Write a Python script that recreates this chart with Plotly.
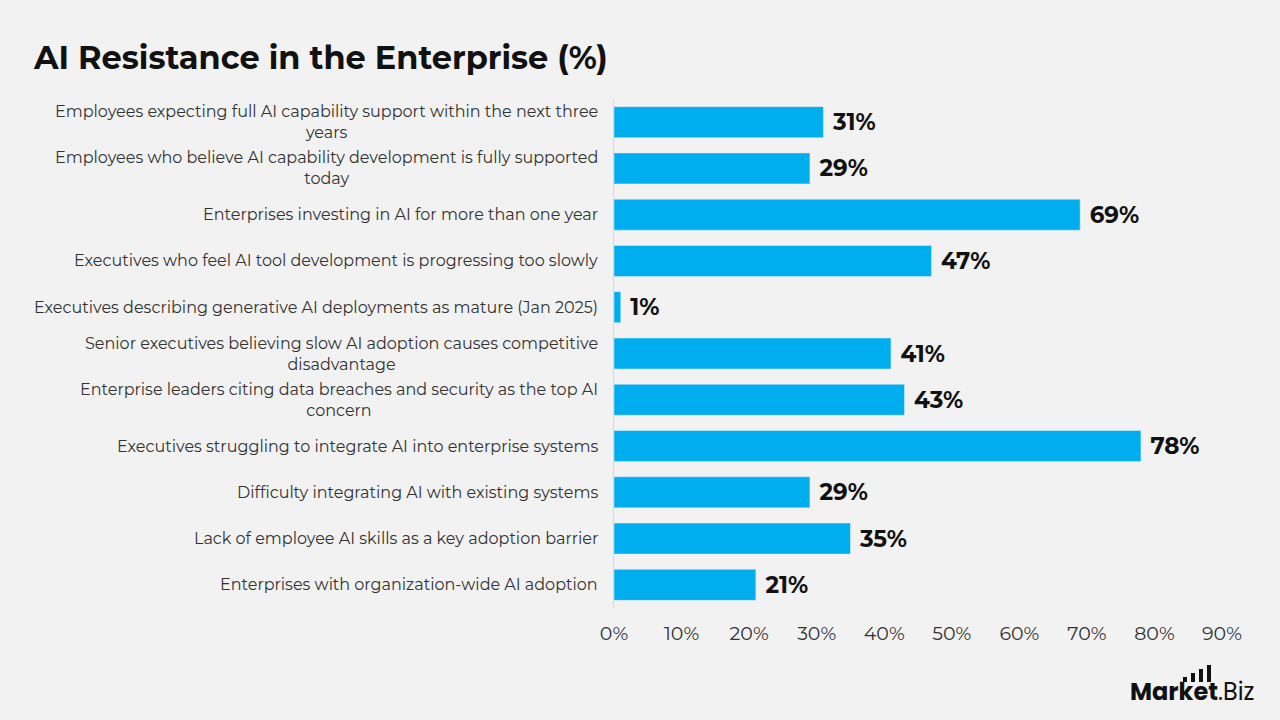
import plotly.graph_objects as go

categories = [
    "Employees expecting full AI capability support within the next three<br>years",
    "Employees who believe AI capability development is fully supported<br>today",
    "Enterprises investing in AI for more than one year",
    "Executives who feel AI tool development is progressing too slowly",
    "Executives describing generative AI deployments as mature (Jan 2025)",
    "Senior executives believing slow AI adoption causes competitive<br>disadvantage",
    "Enterprise leaders citing data breaches and security as the top AI<br>concern",
    "Executives struggling to integrate AI into enterprise systems",
    "Difficulty integrating AI with existing systems",
    "Lack of employee AI skills as a key adoption barrier",
    "Enterprises with organization-wide AI adoption",
]
values = [31, 29, 69, 47, 1, 41, 43, 78, 29, 35, 21]
tick_vals = [0, 10, 20, 30, 40, 50, 60, 70, 80, 90]
tick_text = ["0%", "10%", "20%", "30%", "40%", "50%", "60%", "70%", "80%", "90%"]

FONT = "Montserrat, Open Sans, sans-serif"

fig = go.Figure(go.Bar(
    x=values,
    y=categories,
    orientation="h",
    marker=dict(color="#00AEEF"),
    text=[f"<b> {v}%</b>" for v in values],
    textposition="outside",
    textfont=dict(size=23, color="#111111", family=FONT),
    cliponaxis=False,
    width=0.67,
))

fig.update_layout(
    width=1280, height=720,
    paper_bgcolor="#F2F2F2", plot_bgcolor="#F2F2F2",
    margin=dict(l=614, r=58, t=99, b=112),
    showlegend=False,
    title=dict(text="<b>AI Resistance in the Enterprise (%)</b>", x=34/1280, xanchor="left",
               y=1 - 58/720, yanchor="middle",
               font=dict(size=32, color="#111111", family=FONT)),
    font=dict(family=FONT),
)
fig.update_xaxes(range=[0, 90], tickvals=tick_vals, ticktext=tick_text, showgrid=False,
                 zeroline=False, showline=False, ticks="", ticklabelstandoff=12,
                 tickfont=dict(size=19, color="#333333", family=FONT))
fig.update_yaxes(autorange="reversed", showgrid=False, zeroline=False,
                 showline=True, linecolor="#D9D9D9", linewidth=1, ticks="",
                 showticklabels=False)

# category labels (centered multi-line, right-anchored)
for cat in categories:
    fig.add_annotation(text=cat, xref="paper", yref="y", x=0, y=cat,
                       xanchor="right", yanchor="middle", align="center",
                       xshift=-14, showarrow=False,
                       font=dict(size=16, color="#333333", family=FONT))

# logo
fig.add_annotation(text="<b>Market</b>.Biz", xref="paper", yref="paper",
                   x=(1257 - 614) / 608, y=-(691 - 608) / 509,
                   xanchor="right", yanchor="middle", showarrow=False,
                   font=dict(size=24, color="#111111", family="Poppins, Open Sans, sans-serif"))
for x0, h in [(1183, 5), (1191, 9), (1199, 13), (1207, 17)]:
    fig.add_shape(type="rect", xref="paper", yref="paper",
                  x0=(x0 - 614) / 608, x1=(x0 + 4 - 614) / 608,
                  y0=-(682 - 608) / 509, y1=-(682 - h - 608) / 509,
                  fillcolor="#111111", line_width=0)

fig.write_html("out.html")
